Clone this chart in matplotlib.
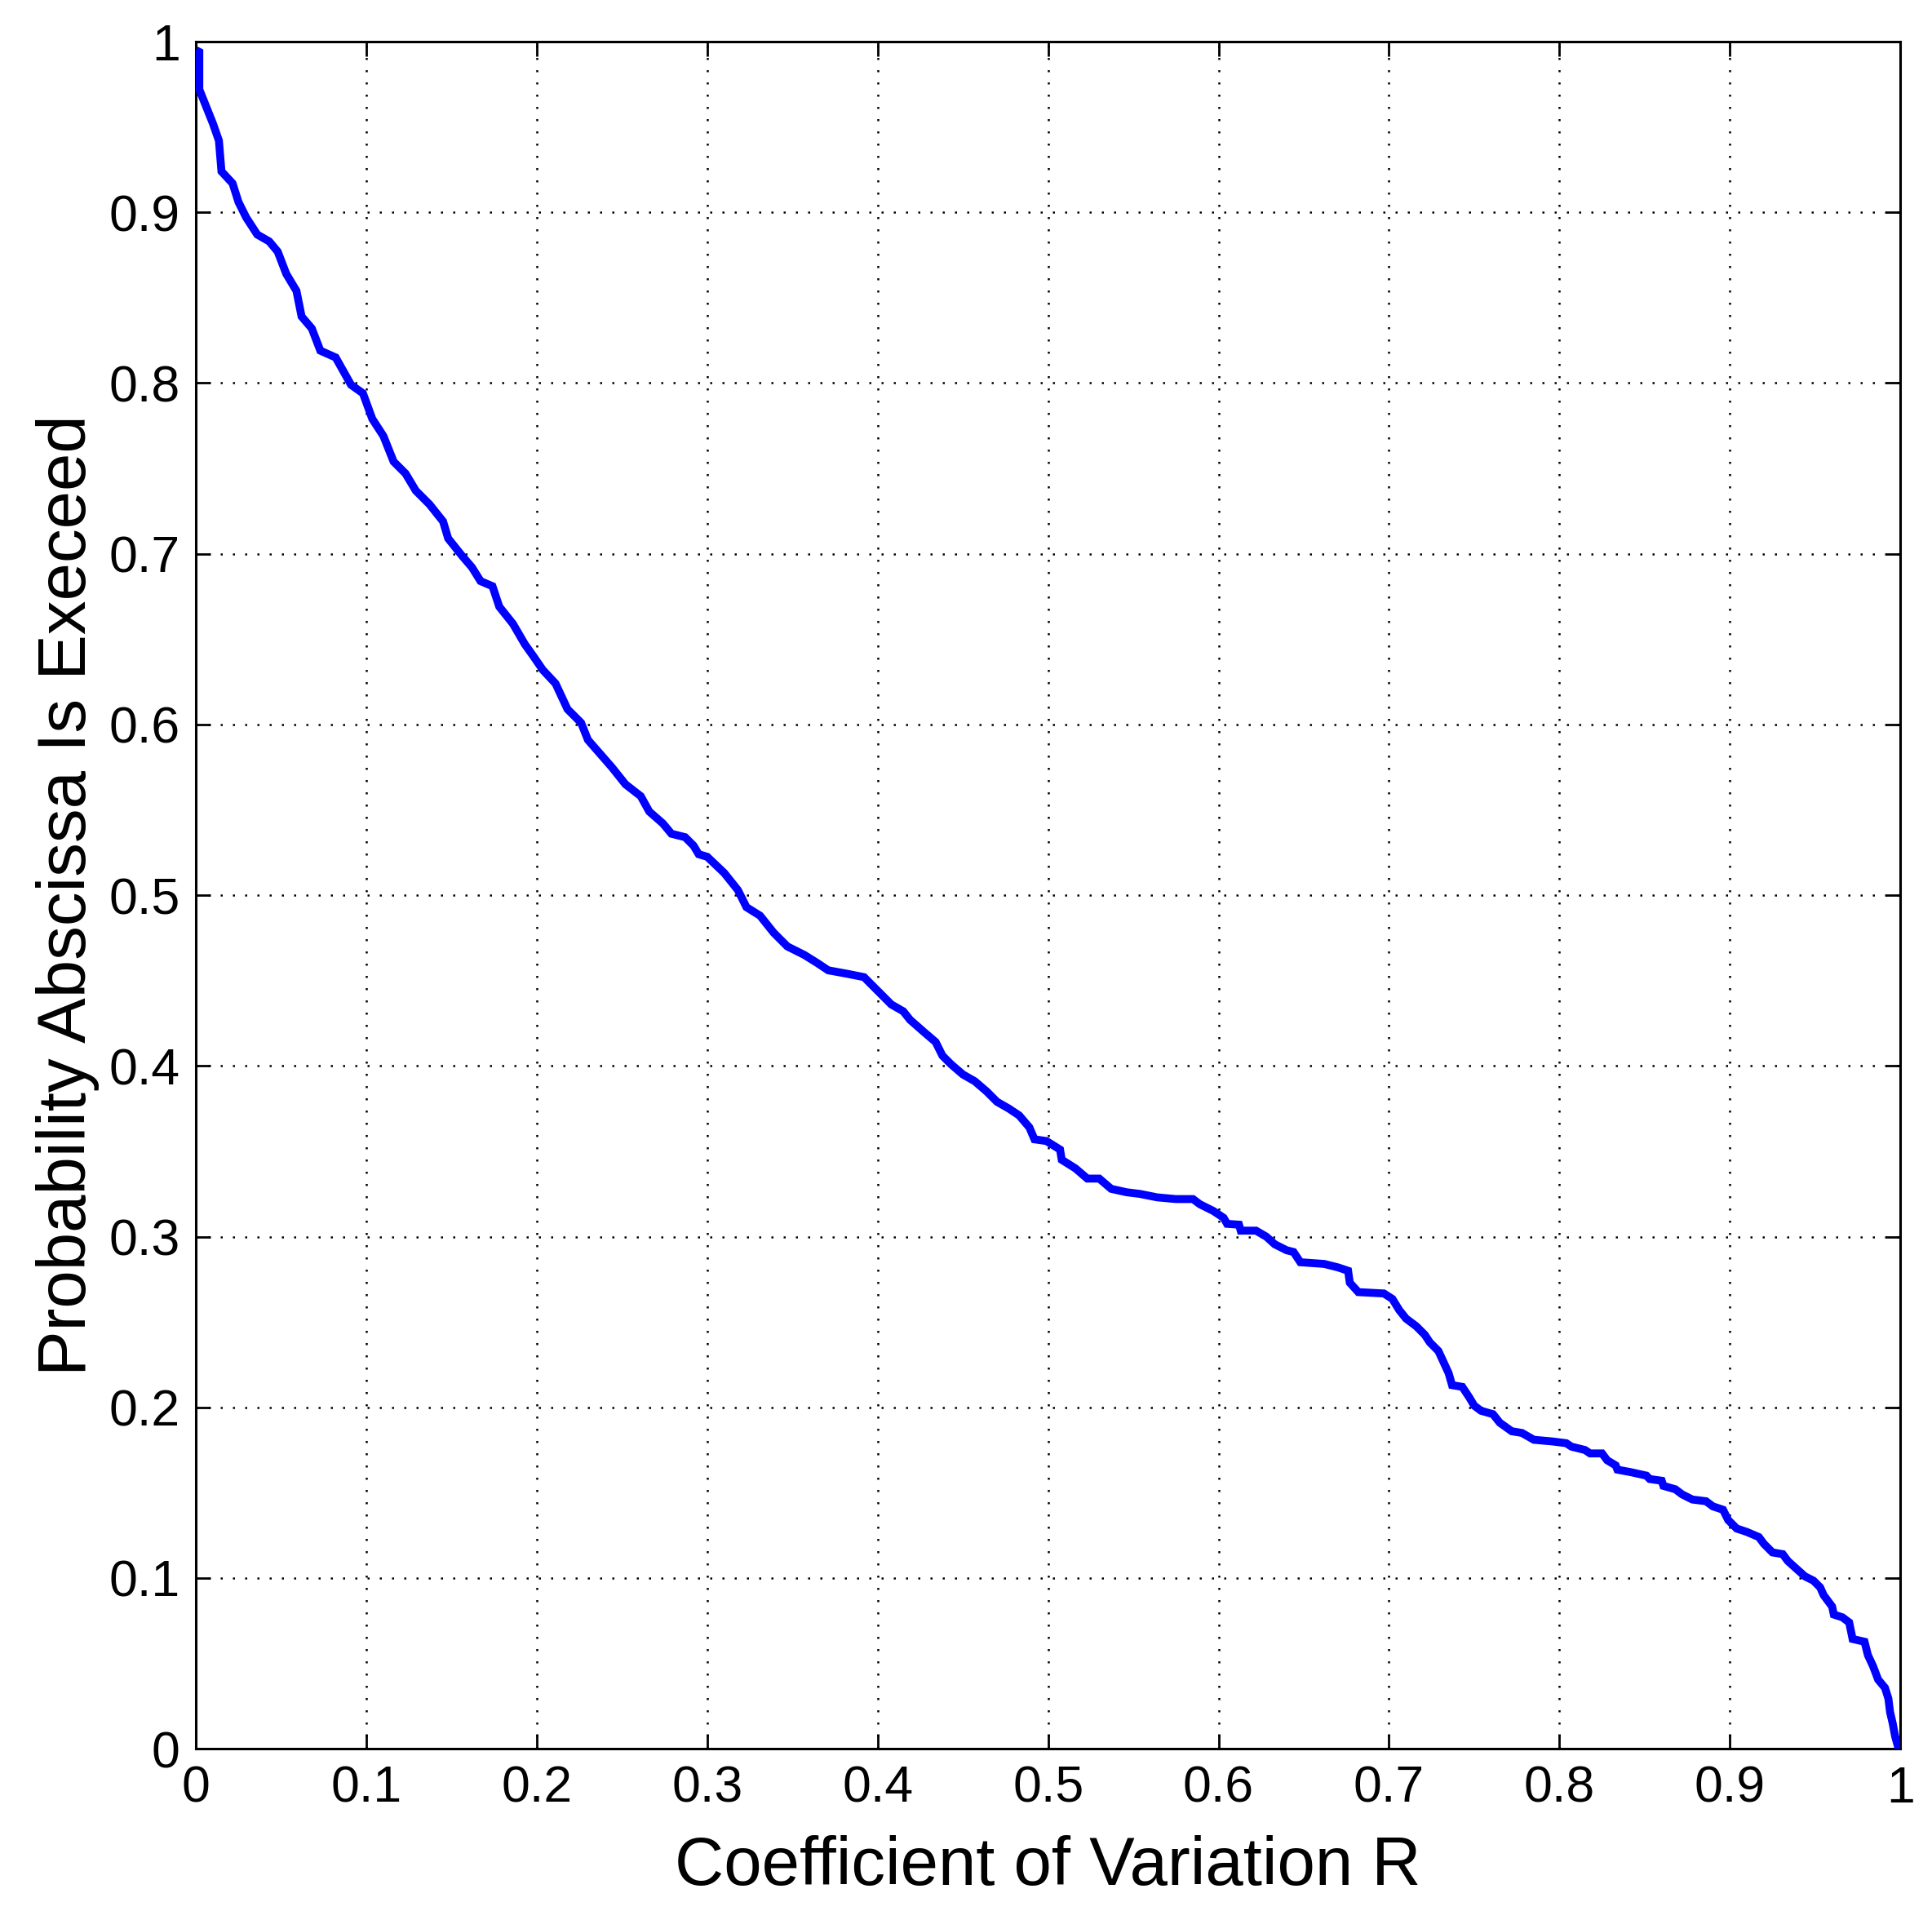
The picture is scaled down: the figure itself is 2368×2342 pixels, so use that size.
import matplotlib
matplotlib.use("Agg")
import matplotlib.pyplot as plt

# exceedance curve (x = coefficient of variation R)
cv_r = [0.000, 0.002, 0.002, 0.006, 0.010, 0.0135, 0.015, 0.0215, 0.025, 0.0295,
        0.036, 0.043, 0.048, 0.053, 0.059, 0.062, 0.068, 0.073, 0.082, 0.091,
        0.098, 0.1035, 0.110, 0.116, 0.123, 0.129, 0.137, 0.145, 0.148, 0.156,
        0.162, 0.167, 0.174, 0.178, 0.186, 0.193, 0.198, 0.2035, 0.211, 0.218,
        0.226, 0.230, 0.237, 0.244, 0.252, 0.261, 0.266, 0.274, 0.279, 0.287,
        0.292, 0.295, 0.300, 0.310, 0.318, 0.323, 0.331, 0.339, 0.347, 0.357,
        0.365, 0.371, 0.382, 0.392, 0.398, 0.405, 0.408, 0.415, 0.419, 0.427,
        0.434, 0.438, 0.443, 0.450, 0.457, 0.464, 0.470, 0.477, 0.483, 0.489,
        0.492, 0.499, 0.507, 0.508, 0.516, 0.523, 0.530, 0.537, 0.546, 0.554,
        0.564, 0.575, 0.585, 0.589, 0.597, 0.603, 0.605, 0.612, 0.613, 0.622,
        0.628, 0.633, 0.640, 0.644, 0.648, 0.662, 0.670, 0.676, 0.677, 0.682,
        0.697, 0.702, 0.706, 0.710, 0.716, 0.721, 0.724, 0.729, 0.732, 0.735,
        0.737, 0.743, 0.747, 0.750, 0.754, 0.761, 0.765, 0.772, 0.778, 0.785,
        0.796, 0.804, 0.807, 0.815, 0.818, 0.825, 0.828, 0.833, 0.834, 0.842,
        0.851, 0.853, 0.860, 0.861, 0.868, 0.872, 0.878, 0.886, 0.890, 0.896,
        0.899, 0.904, 0.910, 0.917, 0.920, 0.925, 0.931, 0.934, 0.939, 0.944,
        0.949, 0.953, 0.955, 0.960, 0.961, 0.966, 0.970, 0.972, 0.979, 0.981,
        0.984, 0.987, 0.991, 0.993, 0.994, 0.9955, 0.997, 0.999]
p_exceed = [0.995, 0.994, 0.972, 0.962, 0.952, 0.942, 0.924, 0.917, 0.906, 0.897,
            0.887, 0.883, 0.877, 0.864, 0.854, 0.839, 0.832, 0.819, 0.815, 0.799,
            0.794, 0.779, 0.769, 0.754, 0.747, 0.737, 0.729, 0.719, 0.709, 0.699,
            0.692, 0.684, 0.681, 0.669, 0.659, 0.647, 0.640, 0.632, 0.624, 0.609,
            0.601, 0.591, 0.583, 0.575, 0.565, 0.558, 0.549, 0.542, 0.536, 0.534,
            0.529, 0.524, 0.5225, 0.513, 0.503, 0.493, 0.488, 0.478, 0.470, 0.465,
            0.460, 0.456, 0.454, 0.452, 0.446, 0.439, 0.436, 0.432, 0.427, 0.420,
            0.414, 0.406, 0.401, 0.395, 0.391, 0.385, 0.379, 0.375, 0.371, 0.364,
            0.357, 0.356, 0.351, 0.345, 0.340, 0.334, 0.334, 0.328, 0.326, 0.325,
            0.323, 0.322, 0.322, 0.319, 0.315, 0.311, 0.3075, 0.307, 0.3035, 0.3035,
            0.300, 0.2955, 0.292, 0.291, 0.285, 0.284, 0.282, 0.280, 0.273, 0.2675,
            0.2667, 0.2635, 0.257, 0.252, 0.2475, 0.2425, 0.238, 0.233, 0.2265, 0.220,
            0.213, 0.212, 0.206, 0.201, 0.198, 0.196, 0.191, 0.186, 0.185, 0.181,
            0.180, 0.179, 0.177, 0.175, 0.173, 0.173, 0.169, 0.166, 0.1635, 0.162,
            0.160, 0.158, 0.157, 0.154, 0.152, 0.149, 0.146, 0.145, 0.142, 0.140,
            0.134, 0.129, 0.127, 0.124, 0.120, 0.115, 0.114, 0.110, 0.1055, 0.101,
            0.0985, 0.0945, 0.090, 0.0833, 0.0786, 0.077, 0.074, 0.0643, 0.0627, 0.0548,
            0.0484, 0.0405, 0.0357, 0.0294, 0.0214, 0.015, 0.0071, 0.0]

x_ticks = [0, 0.1, 0.2, 0.3, 0.4, 0.5, 0.6, 0.7, 0.8, 0.9, 1]
tick_labels = ["0", "0.1", "0.2", "0.3", "0.4", "0.5", "0.6", "0.7", "0.8", "0.9", "1"]

plt.rcParams["font.family"] = ["Liberation Sans", "DejaVu Sans"]

fig = plt.figure(figsize=(23.68, 23.42), dpi=100)
ax = fig.add_axes([0.1014, 0.0849, 0.8822, 0.8933])

ax.plot(cv_r, p_exceed, color="#0000ff", linewidth=7, solid_joinstyle="miter",
        solid_capstyle="butt", zorder=3)

ax.set_xlim(0, 1)
ax.set_ylim(0, 1)
ax.set_xticks(x_ticks)
ax.set_xticklabels(tick_labels)
ax.set_yticks(x_ticks)
ax.set_yticklabels(tick_labels)

ax.grid(True, color="black", linestyle=(0, (1, 5)), linewidth=1.8)
ax.tick_params(direction="in", length=13, width=2, top=True, right=True,
               labelsize=45, colors="black")
ax.tick_params(axis="x", pad=14)
ax.tick_params(axis="y", pad=14)
for sp in ax.spines.values():
    sp.set_linewidth(2.2)

ax.set_xlabel("Coefficient of Variation R", fontsize=60, labelpad=20)
ax.set_ylabel("Probability Abscissa Is Execeed", fontsize=60, labelpad=8)

fig.savefig("out.png", dpi=100, facecolor="white")
